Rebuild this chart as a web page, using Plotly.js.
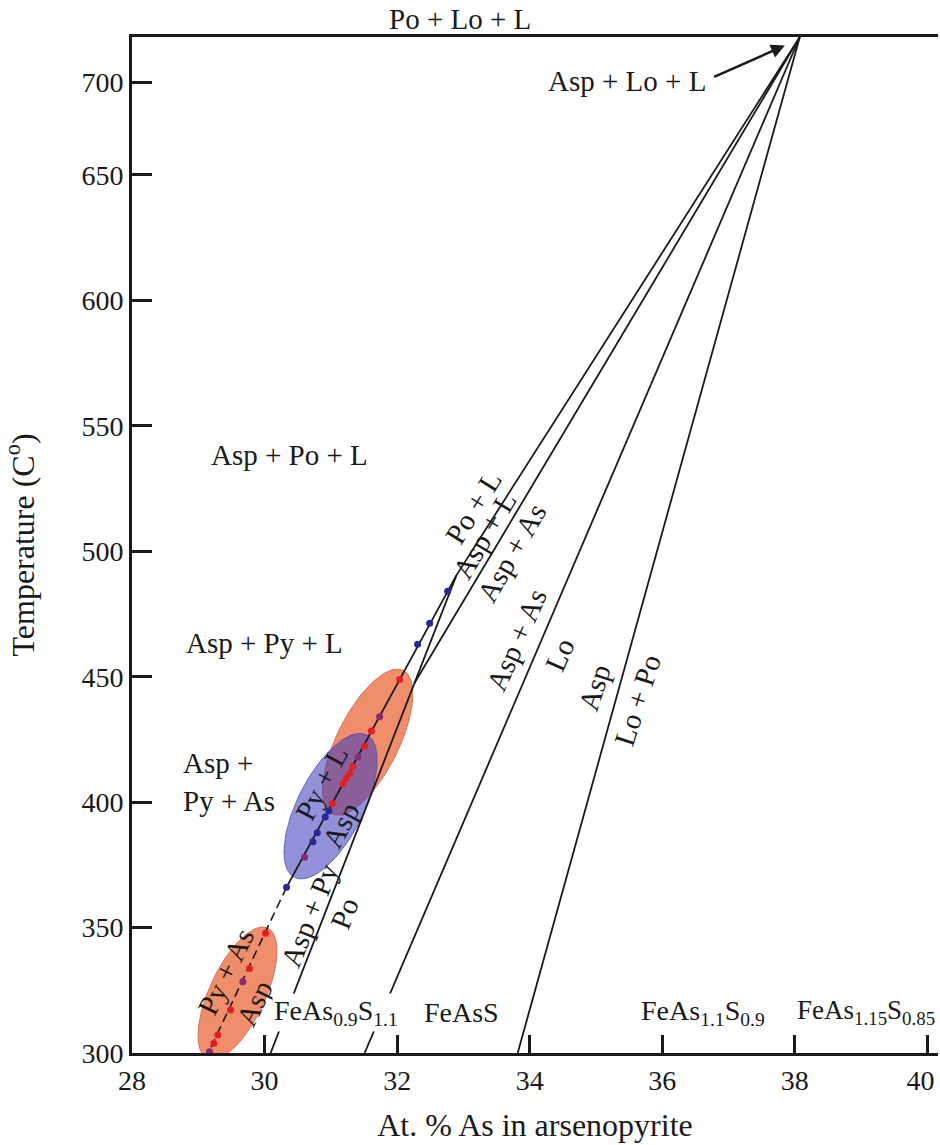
<!DOCTYPE html>
<html><head><meta charset="utf-8">
<script src="https://cdn.plot.ly/plotly-3.0.1.min.js"></script>
<style>html,body{margin:0;padding:0;background:#fff}</style>
</head><body>
<div id="chart" style="width:940px;height:1145px"></div>
<script>
// ---- axis ticks ----
const xTicks = [28, 30, 32, 34, 36, 38, 40];
const xTickText = ['28', '30', '32', '34', '36', '38', '40\u00a0\u00a0'];
const yTickVals = [300, 350, 400, 450, 500, 550, 600, 650, 687];
const yTickText = ['300', '350', '400', '450', '500', '550', '600', '650', '700'];

// ---- phase-boundary lines (At.% As, T °C) ----
const lineA_x = [38.075, 32.894, 30.332];   // Po+L / Asp+L boundary continuing as Py+L / Asp
const lineA_y = [705, 490.4, 366.1];
const lineAdash_x = [30.332, 29.15];        // Py+As / Asp (dashed)
const lineAdash_y = [366.1, 300];
const lineB_x = [38.075, 32.26];            // Asp+L / Asp+As
const lineB_y = [705, 447.4];
const lineC_x = [30.091, 32.894];           // Asp+Py / Po
const lineC_y = [300, 490.4];
const line3_x = [38.075, 31.509];           // Asp+As / Lo
const line3_y = [705, 300];
const line4_x = [38.075, 33.819];           // Asp / Lo+Po
const line4_y = [705, 300];

// ---- analyses ----
const redX = [32.038, 31.611, 31.509, 31.333, 31.283, 31.233, 31.182, 31.022, 30.015, 29.774, 29.487, 29.295, 29.235];
const redY = [448.9, 428.4, 422.3, 414.1, 411.4, 409.4, 407.2, 399.5, 347.7, 333.7, 317.1, 307.2, 303.9];
const purpleX = [31.736, 31.408, 30.604, 29.672, 29.170];
const purpleY = [434.0, 418.0, 378.0, 328.4, 300.5];
const blueX = [32.762, 32.491, 32.309, 30.971, 30.916, 30.795, 30.729, 30.332];
const blueY = [484.1, 471.3, 462.9, 396.5, 394.1, 387.8, 384.2, 366.1];

// ---- ellipses: centre, semi-major vector, semi-minor vector (data units) ----
const ellNames = ['lowerOrange', 'upperOrange', 'blue'];
const ellCX = [29.592, 31.555, 30.996];
const ellCY = [323.8, 423.9, 398.4];
const ellUX = [0.456, 0.537, 0.545];
const ellUY = [26.0, 28.6, 28.4];
const ellVX = [0.383, 0.419, 0.444];
const ellVY = [-4.70, -5.5, -5.94];
const ellFill = ['rgba(236,112,70,0.8)', 'rgba(236,112,70,0.8)', 'rgba(60,60,190,0.56)'];
const ellEdge = ['rgba(205,110,80,0.9)', 'rgba(205,110,80,0.9)', 'rgba(80,80,170,0.8)'];

const INK = '#1a1a1a';
const FONT = 'Liberation Serif, Times New Roman, serif';

const traces = [];
for (let i = 0; i < ellCX.length; i++) {
  const xs = [], ys = [];
  for (let k = 0; k <= 120; k++) {
    const t = 2 * Math.PI * k / 120;
    xs.push(ellCX[i] + ellUX[i] * Math.cos(t) + ellVX[i] * Math.sin(t));
    ys.push(ellCY[i] + ellUY[i] * Math.cos(t) + ellVY[i] * Math.sin(t));
  }
  traces.push({x: xs, y: ys, mode: 'lines', fill: 'toself', fillcolor: ellFill[i],
    line: {color: ellEdge[i], width: 1}, hoverinfo: 'skip', name: ellNames[i]});
}
function ln(x, y, dash, w) {
  traces.push({x: x, y: y, mode: 'lines', line: {color: INK, width: w || 1.8, dash: dash || 'solid'}, hoverinfo: 'skip'});
}
ln(lineA_x, lineA_y);
ln(lineAdash_x, lineAdash_y, '9px,5px', 1.6);
ln(lineB_x, lineB_y);
ln(lineC_x, lineC_y);
ln(line3_x, line3_y);
ln(line4_x, line4_y);
traces.push({x: redX, y: redY, mode: 'markers', marker: {color: 'rgb(228,30,35)', size: 7}, name: 'red'});
traces.push({x: purpleX, y: purpleY, mode: 'markers', marker: {color: 'rgb(140,40,120)', size: 7}, name: 'purple'});
traces.push({x: blueX, y: blueY, mode: 'markers', marker: {color: 'rgb(40,40,150)', size: 7}, name: 'blue'});

const anns = [];
function ann(text, x, y, angle, extra) {
  anns.push(Object.assign({text: text, x: x, y: y, xref: 'x', yref: 'y', showarrow: false,
    textangle: angle || 0, font: {family: FONT, size: 29, color: INK}}, extra || {}));
}
// region labels
ann('Po + Lo + L', 32.943, 1, 0, {yref: 'paper', yanchor: 'bottom', yshift: 0});
ann('Asp + Lo + L', 35.464, 687.6);
ann('Asp + Po + L', 30.377, 538.2);
ann('Asp + Py + L', 30.0, 463.3);
ann('Asp +<br>Py + As', 29.457, 408.0, 0, {align: 'left'});
ann('Po + L', 33.155, 517.5, -58);
ann('Asp + L', 33.321, 506.4, -59);
ann('Asp + As', 33.728, 499.2, -60);
ann('Asp + As', 33.804, 464.5, -66);
ann('Lo', 34.453, 458.6, -66);
ann('Asp', 34.981, 445.8, -72);
ann('Lo + Po', 35.630, 440.6, -72);
ann('Py + L', 30.860, 407.6, -62);
ann('Asp', 31.15, 391.0, -62);
ann('Asp + Py', 30.679, 355.0, -68);
ann('Po', 31.208, 355.8, -68);
ann('Py + As', 29.411, 332.3, -64);
ann('Asp', 29.849, 319.9, -64);
// composition labels
const F28 = {family: FONT, size: 28, color: INK};
ann('FeAs<sub>0.9</sub>S<sub>1.1</sub>', 31.072, 316.3, 0, {bgcolor: 'white', font: F28});
ann('FeAsS', 32.974, 316.3, 0, {font: F28});
ann('FeAs<sub>1.1</sub>S<sub>0.9</sub>', 36.611, 316.3, 0, {font: F28});
ann('FeAs<sub>1.15</sub>S<sub>0.85</sub>', 40.15, 316.3, 0, {xanchor: 'right', font: {family: FONT, size: 27, color: INK}});
// arrow
anns.push({x: 37.849, y: 701.6, xref: 'x', yref: 'y', ax: 36.76, ay: 688.8, axref: 'x', ayref: 'y',
  text: '', showarrow: true, arrowhead: 2, arrowsize: 1.1, arrowwidth: 2.5, arrowcolor: INK});

const layout = {
  width: 940, height: 1145,
  margin: {l: 132, r: 2, t: 37, b: 92},
  paper_bgcolor: 'white', plot_bgcolor: 'white',
  showlegend: false,
  font: {family: FONT, color: INK, size: 28},
  xaxis: {range: [28, 40.16], tickvals: xTicks, ticktext: xTickText, ticks: 'inside', ticklen: 18, tickwidth: 3, tickcolor: INK,
    showline: true, linewidth: 3, linecolor: INK, mirror: true, showgrid: false, zeroline: false,
    ticklabeloverflow: 'allow',
    tickfont: {family: FONT, size: 28, color: INK},
    title: {text: 'At. % As in arsenopyrite', font: {family: FONT, size: 32, color: INK}, standoff: 20}},
  yaxis: {range: [300, 705], tickvals: yTickVals, ticktext: yTickText, ticks: 'inside', ticklen: 20, tickwidth: 3,
    tickcolor: INK, showline: true, linewidth: 3, linecolor: INK, mirror: false, showgrid: false, zeroline: false,
    tickfont: {family: FONT, size: 28, color: INK},
    title: {text: 'Temperature (C<sup>o</sup>)', font: {family: FONT, size: 32, color: INK}, standoff: 38}},
  annotations: anns
};
Plotly.newPlot('chart', traces, layout, {displayModeBar: false, staticPlot: true});
</script>
</body></html>
